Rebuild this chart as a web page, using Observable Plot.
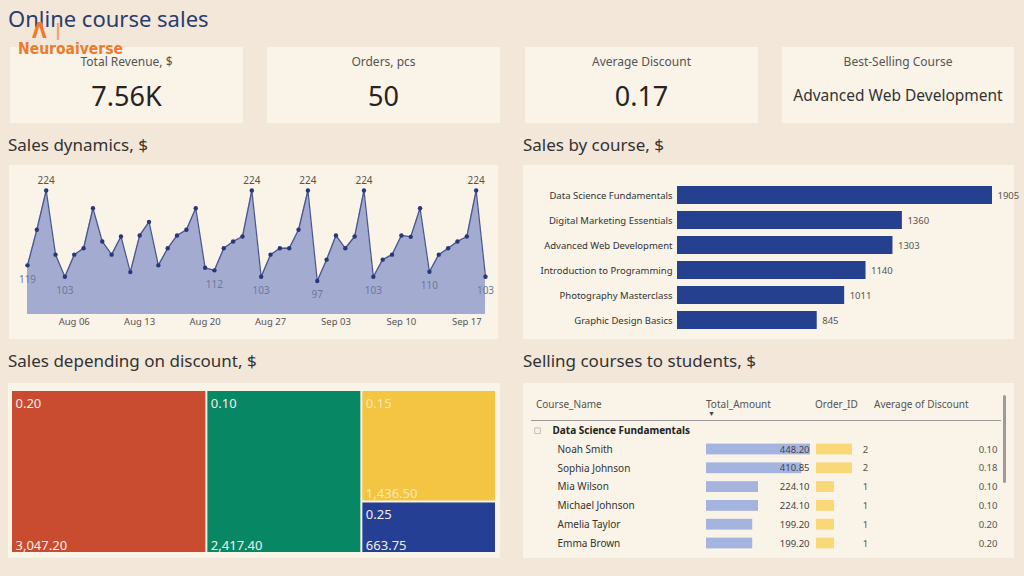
<!DOCTYPE html>
<html><head><meta charset="utf-8">
<script src="https://cdn.jsdelivr.net/npm/d3@7"></script>
<script src="https://cdn.jsdelivr.net/npm/@observablehq/plot@0.6"></script>
<style>
body{margin:0;width:1024px;height:576px;background:#f2e7d9;position:relative;overflow:hidden;font-family:"Noto Sans","Open Sans",sans-serif;}
.panel{position:absolute;background:#faf3e7;}
.card{position:absolute;background:#faf3e7;top:47px;height:76px;}
.klabel{position:absolute;left:0;right:0;top:7px;line-height:16px;text-align:center;font-size:12px;color:#555;}
.kval{position:absolute;left:0;right:0;top:32px;line-height:34px;text-align:center;font-size:27px;color:#252423;}
.kval.small{font-size:15.5px;top:38px;line-height:20px;color:#333;}
.sec{position:absolute;font-size:17px;line-height:20px;color:#333;}
.th{position:absolute;font-size:10px;color:#555;line-height:12px;}
.abs{position:absolute;}
.logo{position:absolute;z-index:5;font-family:'Liberation Sans Narrow','DejaVu Sans Condensed',sans-serif;color:#f07a2b;}
</style></head>
<body>
<div class="abs" style="left:8px;top:4px;font-size:22px;line-height:28px;color:#2a3d6b;">Online course sales</div>

<div id="cards"></div>

<div class="logo" style="left:32px;top:20px;font-weight:bold;font-size:21px;line-height:22px;">Λ</div>
<div class="logo" style="left:55px;top:20px;font-size:23px;line-height:24px;color:#f3a06a;">I</div>
<div class="logo" style="left:18px;top:41px;font-weight:bold;font-size:15.5px;line-height:17px;">Neuroaiverse</div>

<div class="sec" style="left:8px;top:135px;">Sales dynamics, $</div>
<div class="sec" style="left:523px;top:135px;">Sales by course, $</div>
<div class="sec" style="left:8px;top:351px;">Sales depending on discount, $</div>
<div class="sec" style="left:523px;top:351px;">Selling courses to students, $</div>

<div class="panel" style="left:9px;top:165px;width:489px;height:174px;"><div id="line" style="position:absolute;left:1px;top:0;"></div></div>
<div class="panel" style="left:523px;top:165px;width:491px;height:174px;"><div id="bars" style="position:absolute;left:0;top:0;"></div></div>
<div class="panel" style="left:8px;top:383px;width:492px;height:175px;"><div id="tree" style="position:absolute;left:4px;top:8px;"></div></div>
<div class="panel" id="tablePanel" style="left:523px;top:383px;width:491px;height:175px;overflow:hidden;">
  <div id="thead"></div>
  <div class="abs" style="left:185px;top:27px;font-size:7px;line-height:8px;color:#444;">▼</div>
  <div class="abs" style="left:8px;top:37px;width:470px;height:1px;background:#9a9a9a;"></div>
  <div class="abs" style="left:480px;top:12px;width:3px;height:88px;border-radius:2px;background:#9b9b9b;"></div>
  <div id="table" style="position:absolute;left:0;top:0;"></div>
</div>

<script>
// ---------- data ----------
const kpiLabels = ["Total Revenue, $", "Orders, pcs", "Average Discount", "Best-Selling Course"];
const kpiValues = ["7.56K", "50", "0.17", "Advanced Web Development"];

const firstDay = "2023-08-01";
const lastDay = "2023-09-19";
const dailySales = [119.0, 169.0, 224.1, 134.0, 103.0, 134.0, 143.0, 199.2, 152.5, 134.0,
                    159.5, 109.5, 161.0, 180.0, 119.0, 143.0, 161.0, 169.0, 199.2, 115.6,
                    112.0, 143.0, 152.5, 159.5, 224.1, 103.0, 134.0, 143.0, 143.0, 169.0,
                    224.1, 97.0, 127.0, 161.0, 143.0, 159.5, 224.1, 103.0, 127.0, 134.0,
                    161.0, 159.0, 199.2, 110.0, 134.0, 143.0, 152.5, 159.5, 224.1, 103.0];
const labeledDays = [0, 2, 4, 20, 24, 25, 30, 31, 36, 37, 43, 48, 49];
const dateTicks = ["2023-08-06", "2023-08-13", "2023-08-20", "2023-08-27", "2023-09-03", "2023-09-10", "2023-09-17"];

const courses = ["Data Science Fundamentals", "Digital Marketing Essentials", "Advanced Web Development",
                 "Introduction to Programming", "Photography Masterclass", "Graphic Design Basics"];
const courseSales = [1905, 1360, 1303, 1140, 1011, 845];

const discounts = ["0.20", "0.10", "0.15", "0.25"];
const discountSales = [3047.20, 2417.40, 1436.50, 663.75];

const tableHeaders = ["Course_Name", "Total_Amount", "Order_ID", "Average of Discount"];
const tableGroup = "Data Science Fundamentals";
const students = ["Noah Smith", "Sophia Johnson", "Mia Wilson", "Michael Johnson", "Amelia Taylor", "Emma Brown"];
const studentAmounts = [448.20, 410.85, 224.10, 224.10, 199.20, 199.20];
const studentOrders = [2, 2, 1, 1, 1, 1];
const studentDiscounts = [0.10, 0.18, 0.10, 0.10, 0.20, 0.20];

// ---------- styles ----------
const treeColors = ["#c94b30", "#088764", "#f4c443", "#243f93"];
const baseStyle = {fontFamily: "'Noto Sans','Open Sans',sans-serif", fontSize: "10px", background: "transparent", overflow: "visible"};

// ---------- KPI cards ----------
const cardLefts = [10, 267, 525, 782];
const cardWidths = [233, 233, 233, 232];
const cardsEl = document.getElementById("cards");
kpiLabels.forEach((lab, i) => {
  const c = document.createElement("div");
  c.className = "card";
  c.style.left = cardLefts[i] + "px";
  c.style.width = cardWidths[i] + "px";
  c.innerHTML = `<div class="klabel">${lab}</div><div class="kval${i === 3 ? " small" : ""}">${kpiValues[i]}</div>`;
  cardsEl.appendChild(c);
});

// ---------- line chart ----------
const days = d3.utcDay.range(new Date(firstDay), d3.utcDay.offset(new Date(lastDay), 1));
const sales = dailySales.map((v, i) => ({date: days[i], value: v, i}));
const labeled = sales.filter(d => labeledDays.includes(d.i));
const yBase = 50;
const lineChart = Plot.plot({
  width: 488, height: 173,
  marginLeft: 17, marginRight: 13, marginTop: 25, marginBottom: 24,
  style: baseStyle,
  x: {type: "utc", domain: [days[0], days[days.length - 1]]},
  y: {domain: [yBase, 224.1], axis: null},
  marks: [
    Plot.areaY(sales, {x: "date", y1: yBase, y2: "value", fill: "#a4abd0"}),
    Plot.lineY(sales, {x: "date", y: "value", stroke: "#4a5790", strokeWidth: 1.3}),
    Plot.dot(sales, {x: "date", y: "value", r: 2.2, fill: "#27377a", stroke: "none"}),
    Plot.text(labeled.filter(d => d.value >= 200), {x: "date", y: "value", text: d => Math.round(d.value), dy: -10, fill: "#555", fontSize: 10}),
    Plot.text(labeled.filter(d => d.value < 200), {x: "date", y: "value", text: d => Math.round(d.value), dy: 14, fill: "#6f7899", fontSize: 10}),
    Plot.axisX(dateTicks.map(d => new Date(d)), {tickSize: 0, tickPadding: 4, tickFormat: d3.utcFormat("%b %d"), fill: "#555", fontSize: 9.5, label: null})
  ]
});
document.getElementById("line").appendChild(lineChart);

// ---------- bar chart ----------
const courseData = courses.map((c, i) => ({course: c, value: courseSales[i]}));
const barChart = Plot.plot({
  width: 491, height: 173,
  marginLeft: 154, marginRight: 22, marginTop: 17.5, marginBottom: 5.5,
  style: baseStyle,
  x: {domain: [0, 1905], axis: null},
  y: {domain: courses, paddingInner: 0.28, paddingOuter: 0.14, round: false, axis: null},
  marks: [
    Plot.barX(courseData, {x: "value", y: "course", fill: "#24408f"}),
    Plot.axisY({tickSize: 0, tickPadding: 5, fill: "#333", fontSize: 9.5, label: null}),
    Plot.text(courseData, {x: "value", y: "course", text: d => String(d.value), dx: 5, textAnchor: "start", fill: "#555", fontSize: 9.5})
  ]
});
document.getElementById("bars").appendChild(barChart);

// ---------- treemap ----------
const TW = 483, TH = 161;
const root = d3.hierarchy({children: discounts.map((d, i) => ({discount: d, value: discountSales[i]}))})
  .sum(d => d.value || 0)
  .sort((a, b) => b.value - a.value);
d3.treemap().size([TW, TH]).paddingInner(2).tile(d3.treemapSquarify)(root);
const cells = root.leaves().map(l => ({discount: l.data.discount, value: l.data.value, x0: l.x0, x1: l.x1, y0: l.y0, y1: l.y1}));
const fmtMoney = d3.format(",.2f");
const labelFill = d => d.discount === "0.15" ? "#fbeab0" : "#f4efe8";
const tree = Plot.plot({
  width: TW, height: TH, margin: 0,
  style: baseStyle,
  x: {domain: [0, TW], axis: null},
  y: {domain: [0, TH], reverse: true, axis: null},
  color: {domain: discounts, range: treeColors},
  marks: [
    Plot.rect(cells, {x1: "x0", x2: "x1", y1: "y0", y2: "y1", fill: "discount"}),
    Plot.text(cells, {x: "x0", y: "y0", text: "discount", dx: 3, dy: 7, textAnchor: "start", lineAnchor: "top", fill: labelFill, fontSize: 13}),
    Plot.text(cells, {x: "x0", y: "y1", text: d => fmtMoney(d.value), dx: 3, dy: -3, textAnchor: "start", lineAnchor: "bottom", fill: labelFill, fontSize: 13})
  ]
});
document.getElementById("tree").appendChild(tree);

// ---------- table ----------
const headerLefts = [13, 183, 292, 351];
const thead = document.getElementById("thead");
tableHeaders.forEach((h, i) => {
  const d = document.createElement("div");
  d.className = "th";
  d.style.left = headerLefts[i] + "px";
  d.style.top = "15px";
  d.textContent = h;
  thead.appendChild(d);
});
const rows = students.map((s, i) => ({name: s, amount: studentAmounts[i], orders: studentOrders[i], discount: studentDiscounts[i]}));
const rowKeys = ["__group", ...students];
const amtScale = Plot.scale({x: {domain: [0, 448.2], range: [183, 287]}});
const ordScale = Plot.scale({x: {domain: [0, 2], range: [293, 329]}});
const table = Plot.plot({
  width: 491, height: 175, margin: 0,
  style: baseStyle,
  x: {domain: [0, 491], axis: null},
  y: {type: "band", domain: rowKeys, range: [37.8, 37.8 + rowKeys.length * 18.8], padding: 0, round: false, axis: null},
  marks: [
    Plot.dot(["__group"], {x: 14, y: d => d, symbol: "square", r: 3.2, fill: "none", stroke: "#c4c0ba", strokeWidth: 1}),
    Plot.text([tableGroup], {x: 29, y: () => "__group", text: d => d, textAnchor: "start", fontWeight: "bold", fontSize: 10, fill: "#222"}),
    Plot.barX(rows, {x1: () => amtScale.apply(0), x2: d => amtScale.apply(d.amount), y: "name", fill: "#a5b4df", insetTop: 4, insetBottom: 4}),
    Plot.barX(rows, {x1: () => ordScale.apply(0), x2: d => ordScale.apply(d.orders), y: "name", fill: "#f8d877", insetTop: 4, insetBottom: 4}),
    Plot.text(rows, {x: 34, y: "name", text: "name", textAnchor: "start", fontSize: 10, fill: "#333"}),
    Plot.text(rows, {x: 287, y: "name", text: d => d.amount.toFixed(2), textAnchor: "end", dx: -1, fontSize: 9.5, fill: "#444"}),
    Plot.text(rows, {x: 342, y: "name", text: d => String(d.orders), textAnchor: "middle", fontSize: 9.5, fill: "#555"}),
    Plot.text(rows, {x: 474, y: "name", text: d => d.discount.toFixed(2), textAnchor: "end", fontSize: 9.5, fill: "#555"})
  ]
});
document.getElementById("table").appendChild(table);
</script>
</body></html>
